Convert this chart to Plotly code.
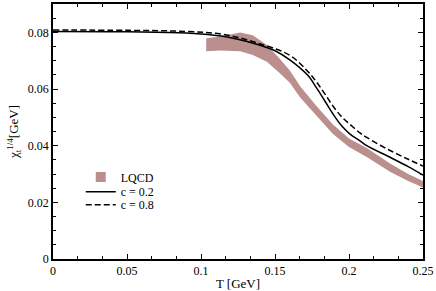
import plotly.graph_objects as go

# LQCD band
T_band = [0.1035, 0.113, 0.1265, 0.135, 0.1445, 0.1535, 0.16, 0.167, 0.178, 0.189, 0.2, 0.212, 0.228, 0.24, 0.25]
band_upper = [0.0779, 0.0785, 0.0799, 0.0790, 0.0755, 0.0705, 0.0665, 0.0610, 0.0540, 0.0476, 0.0425, 0.0392, 0.0336, 0.0300, 0.0275]
band_lower = [0.0733, 0.0736, 0.0733, 0.0720, 0.0696, 0.0655, 0.0622, 0.0570, 0.0505, 0.0442, 0.0395, 0.0360, 0.0307, 0.0275, 0.0252]

# model curves
T_c02 = [0, 0.05, 0.09, 0.115, 0.1376, 0.15, 0.16, 0.172, 0.1782, 0.184, 0.1894, 0.195, 0.2007, 0.2074, 0.212, 0.2277, 0.24, 0.25]
chi_c02 = [0.0803, 0.0802, 0.0798, 0.0786, 0.0758, 0.0735, 0.0703, 0.0649, 0.0603, 0.0555, 0.0510, 0.0470, 0.0441, 0.0417, 0.0400, 0.0359, 0.0326, 0.0296]

T_c08 = [0, 0.05, 0.09, 0.115, 0.1376, 0.16, 0.172, 0.178, 0.184, 0.1894, 0.195, 0.2007, 0.2074, 0.212, 0.2277, 0.24, 0.25]
chi_c08 = [0.0808, 0.0807, 0.0803, 0.0793, 0.0763, 0.0719, 0.0663, 0.0625, 0.0580, 0.0538, 0.0502, 0.0475, 0.0445, 0.0429, 0.0383, 0.0352, 0.0328]

x_ticks = [0, 0.05, 0.1, 0.15, 0.2, 0.25]
x_tick_labels = ["0", "0.05", "0.1", "0.15", "0.2", "0.25"]
y_ticks = [0, 0.02, 0.04, 0.06, 0.08]
y_tick_labels = ["0", "0.02", "0.04", "0.06", "0.08"]

FONT = "Liberation Serif, Times New Roman, serif"
BAND_COLOR = "#bc8f8f"

fig = go.Figure()
fig.add_trace(go.Scatter(
    x=T_band + T_band[::-1], y=band_upper + band_lower[::-1],
    fill="toself", fillcolor=BAND_COLOR, mode="lines",
    line=dict(width=0, color=BAND_COLOR), name="LQCD", showlegend=False))
fig.add_trace(go.Scatter(x=[None], y=[None], mode="markers",
                         marker=dict(symbol="square", size=10, color=BAND_COLOR), name="LQCD",
                         legend="legend"))
fig.add_trace(go.Scatter(x=T_c02, y=chi_c02, mode="lines", line=dict(color="black", width=1.5, shape="spline"),
                         name="c = 0.2", legend="legend2"))
fig.add_trace(go.Scatter(x=T_c08, y=chi_c08, mode="lines",
                         line=dict(color="black", width=1.5, dash="6px,3px", shape="spline"), name="c = 0.8",
                         legend="legend3"))

axis_common = dict(showgrid=False, zeroline=False, showline=True, linecolor="black", linewidth=1.5,
                   mirror="ticks", ticks="inside", ticklen=5, tickwidth=1, tickcolor="black",
                   tickfont=dict(family=FONT, size=12, color="black"))

fig.update_xaxes(range=[0, 0.25], tickvals=x_ticks, ticktext=x_tick_labels,
                 minor=dict(dtick=0.05 / 3, tick0=0, ticks="inside", ticklen=3, tickcolor="black"),
                 title=dict(text="T [GeV]", font=dict(family=FONT, size=13, color="black"), standoff=2),
                 **axis_common)
fig.update_yaxes(range=[0, 0.09], tickvals=y_ticks, ticktext=y_tick_labels,
                 minor=dict(dtick=0.005, tick0=0, ticks="inside", ticklen=3, tickcolor="black"),
                 title=dict(text="χ<sub>t</sub><sup>1/4</sup>[GeV]", font=dict(family=FONT, size=13, color="black"),
                            standoff=6),
                 **axis_common)

leg_common = dict(x=0.075, xanchor="left", yanchor="middle", bgcolor="rgba(0,0,0,0)",
                  font=dict(family=FONT, size=12, color="black"), itemwidth=30)

fig.update_layout(
    width=436, height=291,
    margin=dict(l=53, r=13, t=2, b=31),
    plot_bgcolor="white", paper_bgcolor="white",
    font=dict(family=FONT, size=12, color="black"),
    legend=dict(y=0.322, **leg_common),
    legend2=dict(y=0.264, **leg_common),
    legend3=dict(y=0.213, **leg_common),
    showlegend=True,
)

fig.write_html("out.html", config={"displayModeBar": False},
               post_script="document.body.style.margin='0';document.body.style.padding='0';")
